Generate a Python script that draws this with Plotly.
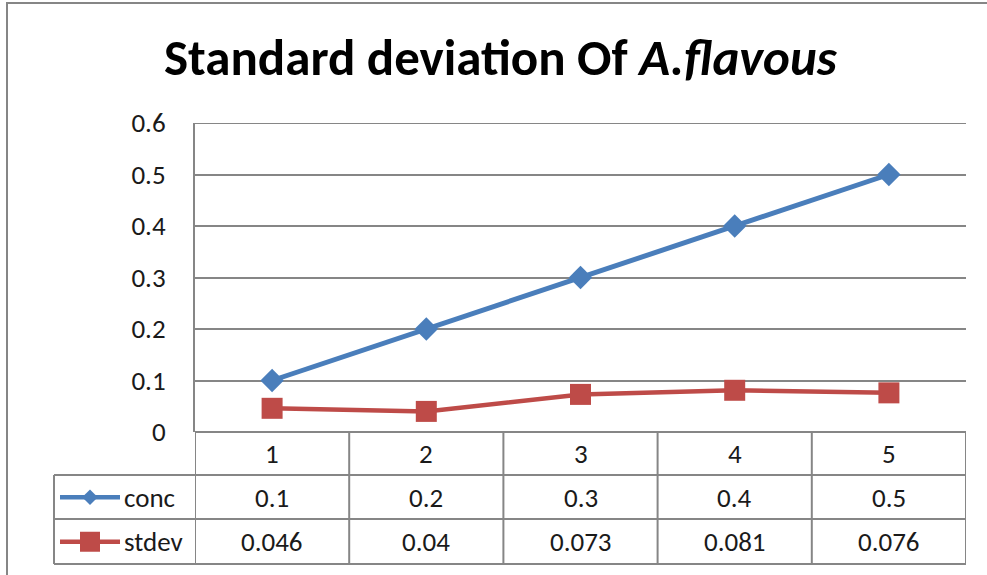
import plotly.graph_objects as go

# Series data
categories = [1, 2, 3, 4, 5]
conc = [0.1, 0.2, 0.3, 0.4, 0.5]
stdev = [0.046, 0.04, 0.073, 0.081, 0.076]
series_names = ["conc", "stdev"]
y_ticks = [0, 0.1, 0.2, 0.3, 0.4, 0.5, 0.6]

W, H = 987, 575
BLUE = "#4A7EBB"
RED = "#BE4B48"
GRID = "#868686"
TEXT = "#1a1a1a"
FONT = "Carlito, Calibri, Lato, sans-serif"


def fx(px):
    return px / W


def fy(py):
    return 1 - py / H


# Layout geometry (pixels)
PLOT_L, PLOT_R = 195, 966
PLOT_T, PLOT_B = 123, 432
ROW1_B, ROW2_B, ROW3_B = 475, 519, 564
KEY_L = 54

fig = go.Figure()

fig.add_trace(go.Scatter(
    x=categories, y=conc, name=series_names[0], mode="lines+markers",
    line=dict(color=BLUE, width=5),
    marker=dict(symbol="diamond", size=18, color=BLUE),
    cliponaxis=False, showlegend=False,
))
fig.add_trace(go.Scatter(
    x=categories, y=stdev, name=series_names[1], mode="lines+markers",
    line=dict(color=RED, width=4.5),
    marker=dict(symbol="square", size=21, color=RED),
    cliponaxis=False, showlegend=False,
))

# Legend keys inside the data table: a short line with the series marker
key_styles = [
    dict(color=BLUE, symbol="diamond", msize=12),
    dict(color=RED, symbol="square", msize=20),
]
for i, st in enumerate(key_styles):
    fig.add_trace(go.Scatter(
        x=[0, 1], y=[i, i], mode="lines",
        line=dict(color=st["color"], width=4.5),
        xaxis="x2", yaxis="y2", showlegend=False, hoverinfo="skip", cliponaxis=False,
    ))
    fig.add_trace(go.Scatter(
        x=[0.5], y=[i], mode="markers",
        marker=dict(symbol=st["symbol"], size=st["msize"], color=st["color"], opacity=1),
        xaxis="x2", yaxis="y2", showlegend=False, hoverinfo="skip", cliponaxis=False,
    ))

shapes = []
line_style = dict(color=GRID, width=2)

# Outer chart frame (top and left edges)
shapes.append(dict(type="line", xref="paper", yref="paper", x0=fx(6), x1=1, y0=fy(3), y1=fy(3), line=line_style))
shapes.append(dict(type="line", xref="paper", yref="paper", x0=fx(7), x1=fx(7), y0=fy(3), y1=0, line=line_style))

# Top gridline of the plot area
shapes.append(dict(type="line", xref="paper", yref="y", x0=fx(PLOT_L), x1=fx(PLOT_R),
                   y0=y_ticks[-1], y1=y_ticks[-1], line=line_style))

# Data table horizontal rules
for yy in (ROW1_B, ROW2_B, ROW3_B):
    shapes.append(dict(type="line", xref="paper", yref="paper", x0=fx(KEY_L), x1=fx(PLOT_R),
                       y0=fy(yy), y1=fy(yy), line=line_style))
# Data table vertical rules between categories
for k in range(len(categories) + 1):
    xb = categories[0] - 0.5 + k
    shapes.append(dict(type="line", xref="x", yref="paper", x0=xb, x1=xb,
                       y0=fy(PLOT_B), y1=fy(ROW3_B), line=line_style))
shapes.append(dict(type="line", xref="paper", yref="paper", x0=fx(KEY_L), x1=fx(KEY_L),
                   y0=fy(ROW1_B), y1=fy(ROW3_B), line=line_style))

annotations = []
# Title
annotations.append(dict(
    text="<b>Standard deviation Of <i>A.flavous</i></b>",
    xref="paper", yref="paper", x=fx(501), y=fy(57), xanchor="center", yanchor="middle",
    showarrow=False, font=dict(family=FONT, size=51, color="#000000"),
))

row_centers = [(PLOT_B + ROW1_B) / 2, (ROW1_B + ROW2_B) / 2, (ROW2_B + ROW3_B) / 2]
cell_font = dict(family=FONT, size=27, color=TEXT)
for c in categories:
    annotations.append(dict(text=str(c), xref="x", yref="paper", x=c, y=fy(row_centers[0]),
                            showarrow=False, font=cell_font, xanchor="center", yanchor="middle"))
for vals, rc in ((conc, row_centers[1]), (stdev, row_centers[2])):
    for c, v in zip(categories, vals):
        annotations.append(dict(text=f"{v:g}", xref="x", yref="paper", x=c, y=fy(rc),
                                showarrow=False, font=cell_font, xanchor="center", yanchor="middle"))
for name, rc in zip(series_names, row_centers[1:]):
    annotations.append(dict(text=name, xref="paper", yref="paper", x=fx(122), y=fy(rc),
                            showarrow=False, font=cell_font, xanchor="left", yanchor="middle"))

fig.update_layout(
    template="none",
    width=W, height=H,
    margin=dict(l=0, r=0, t=0, b=0, pad=0, autoexpand=False),
    paper_bgcolor="white", plot_bgcolor="white",
    font=dict(family=FONT, size=27, color=TEXT),
    shapes=shapes, annotations=annotations,
    xaxis=dict(domain=[fx(PLOT_L), fx(PLOT_R)], range=[0.5, 5.5], showgrid=False,
               zeroline=False, showticklabels=False, showline=False, ticks="",
               automargin=False, fixedrange=True),
    yaxis=dict(domain=[fy(PLOT_B), fy(PLOT_T)], range=[0, 0.6], tickvals=y_ticks,
               ticktext=[f"{t:g}" for t in y_ticks],
               showgrid=True, gridcolor=GRID, gridwidth=2, zeroline=True, zerolinecolor=GRID,
               zerolinewidth=2, showline=True, linecolor=GRID, linewidth=2,
               ticks="outside", ticklen=22, tickcolor="rgba(0,0,0,0)",
               tickfont=dict(family=FONT, size=27, color=TEXT),
               automargin=False, fixedrange=True),
    xaxis2=dict(domain=[fx(60), fx(120)], range=[0, 1], visible=False, automargin=False,
                fixedrange=True),
    yaxis2=dict(domain=[fy(ROW3_B), fy(ROW1_B)], range=[1.5, -0.5], visible=False,
                automargin=False, fixedrange=True),
)

fig.write_html("out.html")
